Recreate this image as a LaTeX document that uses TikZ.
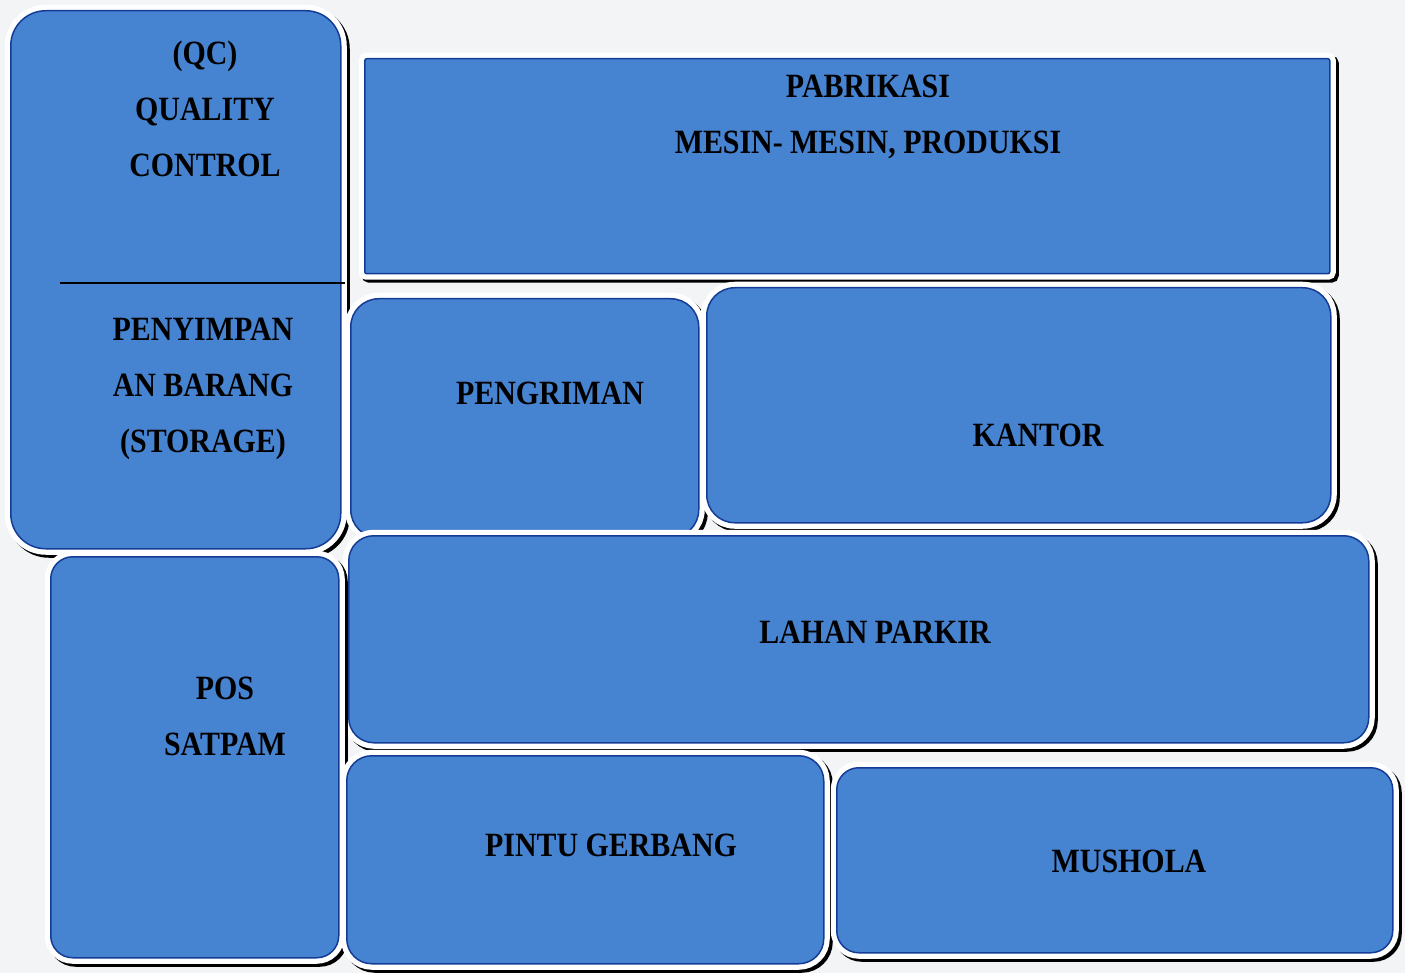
\documentclass[tikz,border=0pt]{standalone}
\usepackage{fontspec}
\setmainfont{Liberation Serif}[FakeStretch=0.88]
\definecolor{roomblue}{RGB}{70,131,208}
\definecolor{roomedge}{RGB}{20,60,150}
\definecolor{paper}{RGB}{243,244,246}
\tikzset{
    room/.style={draw=roomedge, line width=1.5pt, fill=roomblue, inner sep=0pt, anchor=north west,
        preaction={draw=black, line width=12pt, transform canvas={xshift=3pt, yshift=-3pt}},
        preaction={draw=white, line width=12pt}},
    lbl/.style={align=center, font=\bfseries\fontsize{34}{56}\selectfont}
}
\begin{document}
\begin{tikzpicture}[x=1pt, y=-1pt]
\fill[paper](0,0) rectangle (1405,973);
\useasboundingbox (0,0) rectangle (1405,973);
% ruang-ruang
\node[room, rounded corners=35pt, minimum width=330pt, minimum height=538pt](qc) at (10,10){};
\node[room, rounded corners=2pt, minimum width=965pt, minimum height=215pt](pabrik) at (364,58){};
\node[room, rounded corners=28pt, minimum width=348pt, minimum height=239pt](kirim) at (350,298){};
\node[room, rounded corners=28pt, minimum width=624pt, minimum height=235pt](kantor) at (706,287){};
\node[room, rounded corners=25pt, minimum width=1020pt, minimum height=207pt](parkir) at (348,535){};
\node[room, rounded corners=22pt, minimum width=288pt, minimum height=401pt](satpam) at (50,556){};
\node[room, rounded corners=25pt, minimum width=477pt, minimum height=208pt](gerbang) at (346,755){};
\node[room, rounded corners=22pt, minimum width=556pt, minimum height=185pt](mushola) at (836,767){};
% garis pemisah QC / storage
\coordinate (sekatA) at (60,283);
\coordinate (sekatB) at (345,283);
\draw[line width=2.5pt](sekatA)--(sekatB);
% nama ruang
\node[lbl](tqc) at (205,109){(QC)\\QUALITY\\CONTROL};
\node[lbl](tstorage) at (203,389){PENYIMPAN\\AN BARANG\\(STORAGE)};
\node[lbl](tpabrik) at (868,117){PABRIKASI\\MESIN- MESIN, PRODUKSI};
\node[lbl](tkirim) at (550,393){PENGRIMAN};
\node[lbl](tkantor) at (1038,435){KANTOR};
\node[lbl](tparkir) at (875,632){LAHAN PARKIR};
\node[lbl](tsatpam) at (225,716){POS\\SATPAM};
\node[lbl](tgerbang) at (611,845){PINTU GERBANG};
\node[lbl](tmushola) at (1129,861){MUSHOLA};
\end{tikzpicture}
\end{document}
